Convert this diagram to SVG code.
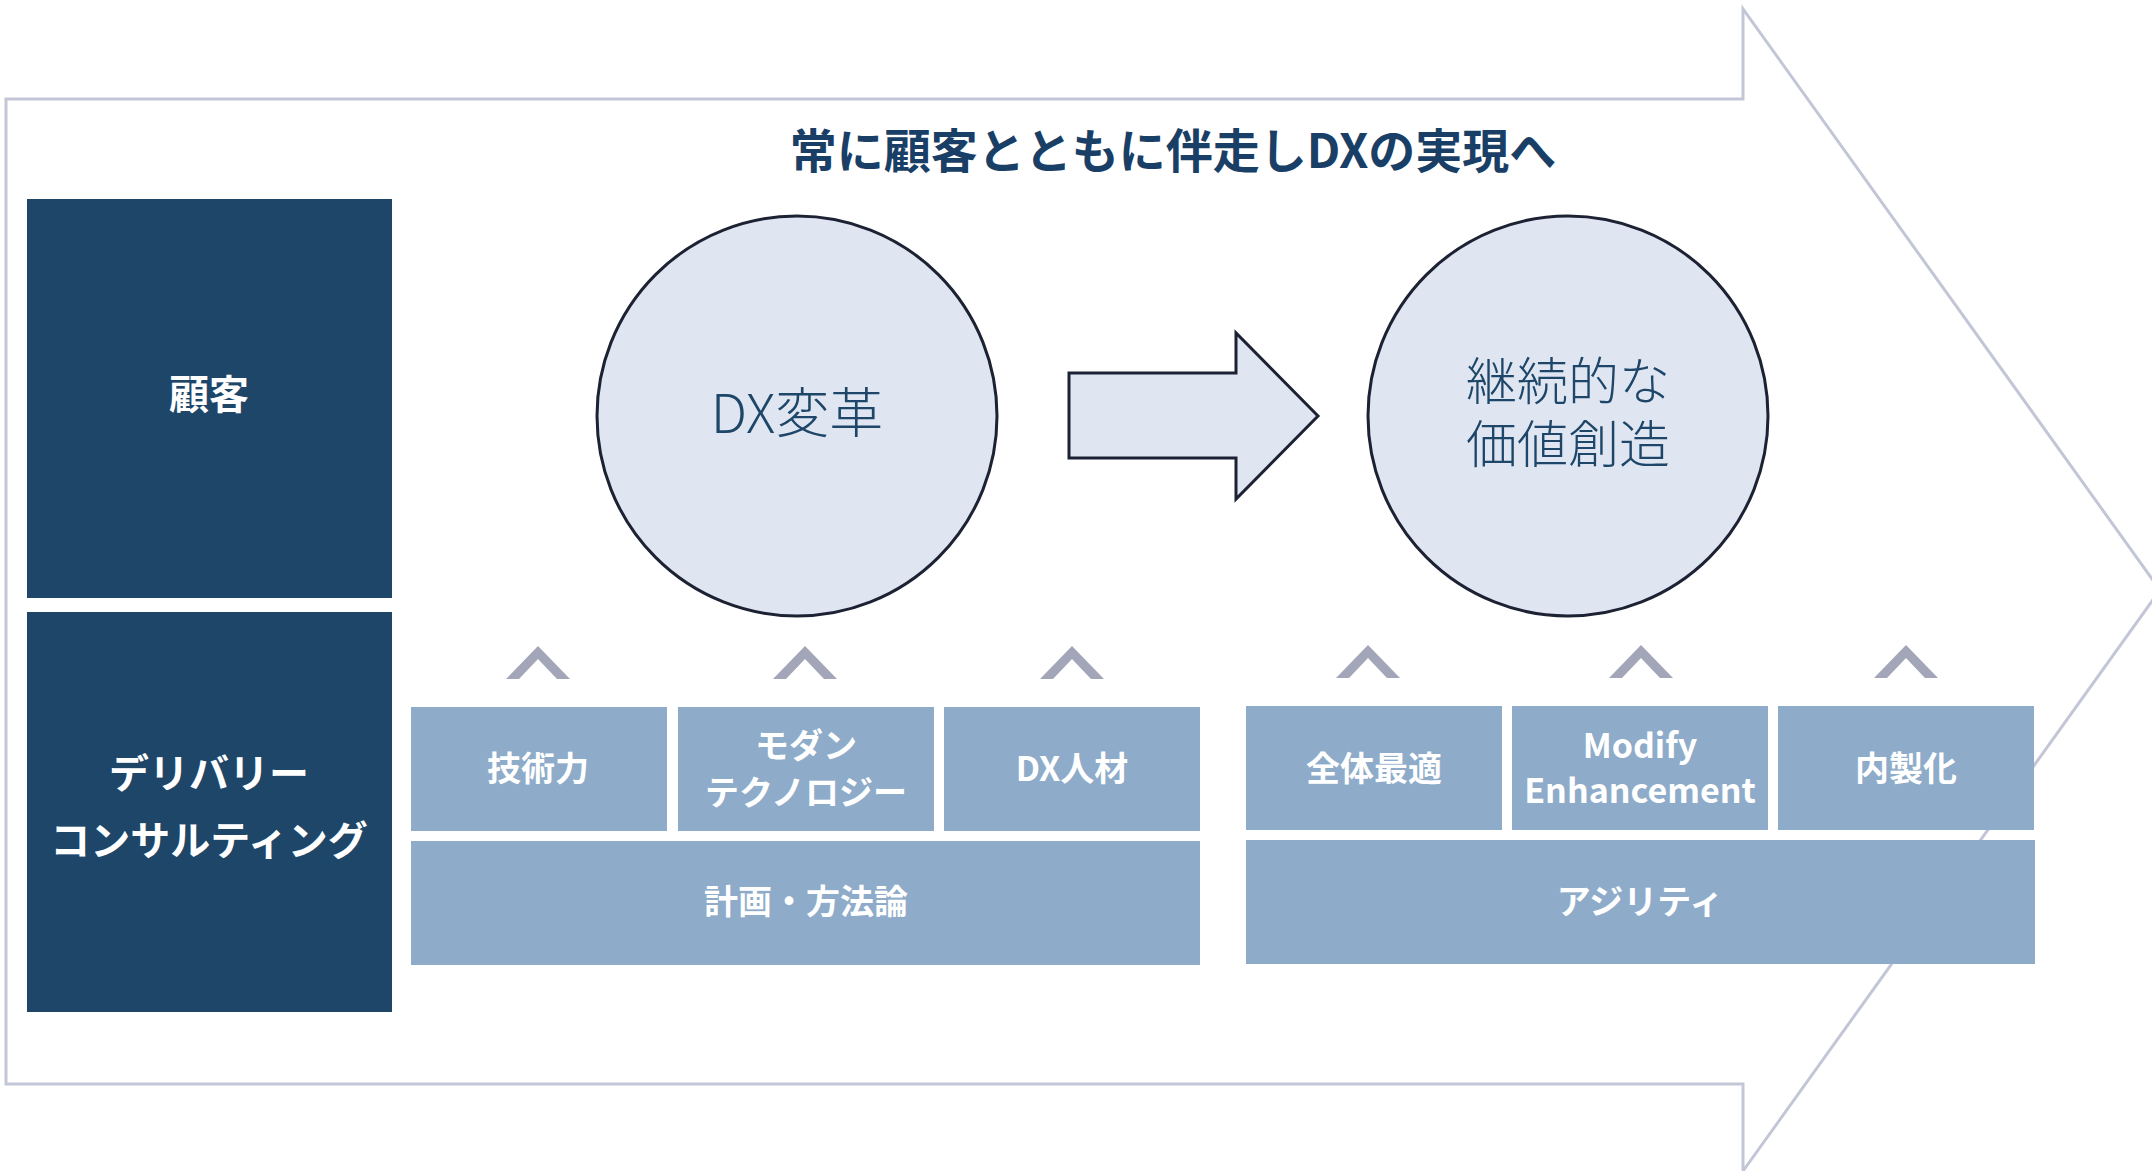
<svg xmlns="http://www.w3.org/2000/svg" width="2152" height="1171" viewBox="0 0 2152 1171">
<defs>
<style>
.dark{fill:#1e4669}
.lb{fill:#8eacc9}
.chev{fill:#a3a6b8}
.circ{fill:#dfe5f1;stroke:#1c2233;stroke-width:3}
.wt{font-family:"Noto Sans CJK JP","Noto Sans",sans-serif;font-weight:700;fill:#ffffff;text-anchor:middle;dominant-baseline:central}
.ct{font-family:"Noto Sans CJK JP","Noto Sans",sans-serif;font-weight:300;fill:#1e4669;text-anchor:middle;dominant-baseline:central}
</style>
<polygon id="chevshape" points="-32,16 0,-17 32,16 19,16 0,-4 -19,16"/>
</defs>
<rect width="2152" height="1171" fill="#ffffff"/>
<g id="big-arrow">
<polygon points="6,99 1743,99 1743,9 2160,590 1743,1171 1743,1084 6,1084" fill="#ffffff" stroke="#c3c6d6" stroke-width="3"/>
</g>
<g id="title">
<text x="1173" y="147" font-family="'Noto Sans CJK JP','Noto Sans',sans-serif" font-weight="700" font-size="47" fill="#1a3f66" text-anchor="middle" dominant-baseline="central">常に顧客とともに伴走しDXの実現へ</text>
</g>
<g id="node-kokyaku">
<rect class="dark" x="27" y="199" width="365" height="399"/>
<text class="wt" x="209" y="392" font-size="40">顧客</text>
</g>
<g id="node-delivery">
<rect class="dark" x="27" y="612" width="365" height="400"/>
<text class="wt" x="209" y="771" font-size="40">デリバリー</text>
<text class="wt" x="209" y="838" font-size="40">コンサルティング</text>
</g>
<g id="node-dx">
<circle class="circ" cx="797" cy="416" r="200"/>
<text class="ct" x="797" y="409" font-size="54">DX変革</text>
</g>
<g id="node-value">
<circle class="circ" cx="1568" cy="416" r="200"/>
<text class="ct" font-size="51"><tspan x="1568" y="378">継続的な</tspan><tspan x="1568" y="441">価値創造</tspan></text>
</g>
<g id="connectors">
<polygon points="1069,373 1236,373 1236,333 1318,416 1236,499 1236,458 1069,458" fill="#dfe5f1" stroke="#1c2233" stroke-width="3"/>
<use href="#chevshape" class="chev" x="538" y="663"/>
<use href="#chevshape" class="chev" x="805" y="663"/>
<use href="#chevshape" class="chev" x="1072" y="663"/>
<use href="#chevshape" class="chev" x="1368" y="662"/>
<use href="#chevshape" class="chev" x="1641" y="662"/>
<use href="#chevshape" class="chev" x="1906" y="662"/>
</g>
<g id="node-gijutsu">
<rect class="lb" x="411" y="707" width="256" height="124"/>
<text class="wt" x="538" y="766" font-size="34">技術力</text>
</g>
<g id="node-modern">
<rect class="lb" x="678" y="707" width="256" height="124"/>
<text class="wt" x="806" y="743" font-size="34">モダン</text>
<text class="wt" x="806" y="790" font-size="34">テクノロジー</text>
</g>
<g id="node-dxjinzai">
<rect class="lb" x="944" y="707" width="256" height="124"/>
<text class="wt" x="1072" y="766" font-size="34">DX人材</text>
</g>
<g id="node-keikaku">
<rect class="lb" x="411" y="841" width="789" height="124"/>
<text class="wt" x="806" y="899" font-size="34">計画・方法論</text>
</g>
<g id="node-zentai">
<rect class="lb" x="1246" y="706" width="256" height="124"/>
<text class="wt" x="1374" y="766" font-size="34">全体最適</text>
</g>
<g id="node-modify">
<rect class="lb" x="1512" y="706" width="256" height="124"/>
<text class="wt" x="1640" y="743" font-size="34">Modify</text>
<text class="wt" x="1640" y="788" font-size="34">Enhancement</text>
</g>
<g id="node-naisei">
<rect class="lb" x="1778" y="706" width="256" height="124"/>
<text class="wt" x="1906" y="766" font-size="34">内製化</text>
</g>
<g id="node-agility">
<rect class="lb" x="1246" y="840" width="789" height="124"/>
<text class="wt" x="1640" y="899" font-size="34">アジリティ</text>
</g>
</svg>
